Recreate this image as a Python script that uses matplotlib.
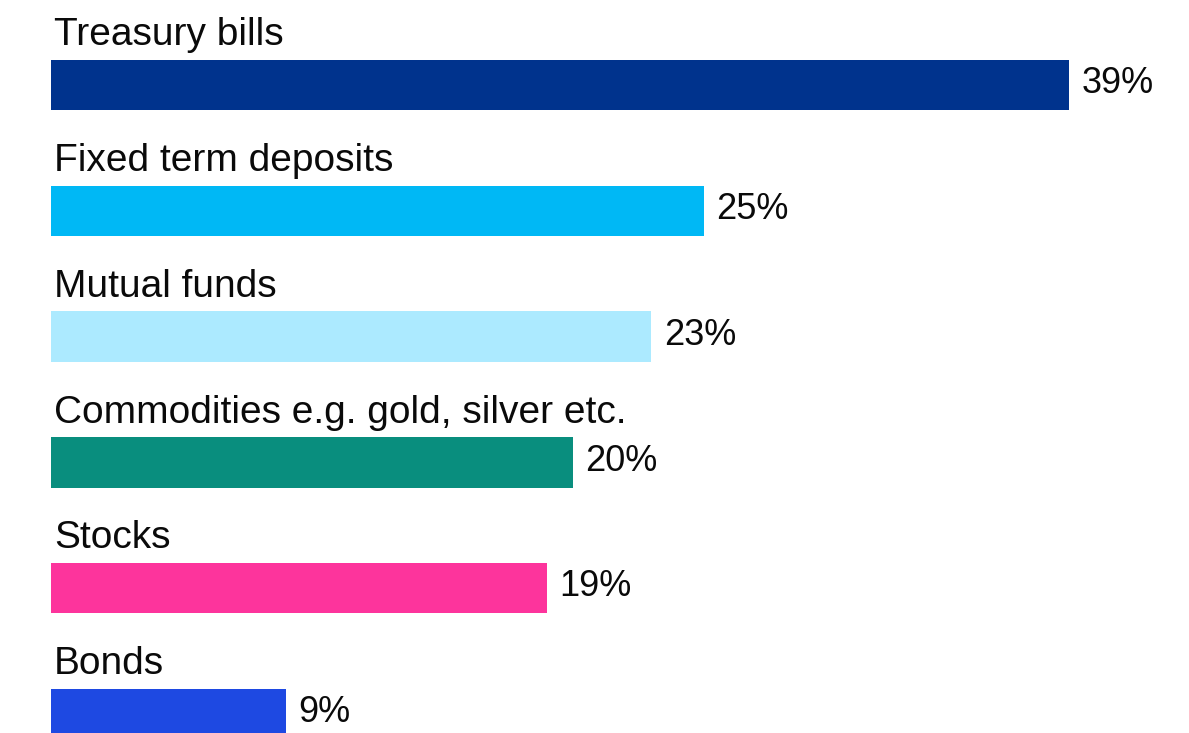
import matplotlib
matplotlib.use("Agg")
import matplotlib.pyplot as plt

# Where money is kept, share of respondents
categories = [
    "Treasury bills",
    "Fixed term deposits",
    "Mutual funds",
    "Commodities e.g. gold, silver etc.",
    "Stocks",
    "Bonds",
]
shares = [39, 25, 23, 20, 19, 9]
colors = ["#00338D", "#00B8F5", "#ACEAFF", "#098E7E", "#FD349C", "#1E49E2"]

plt.rcParams["font.family"] = ["Liberation Sans", "DejaVu Sans"]

fig = plt.figure(figsize=(11.89, 7.33), dpi=100)
ax = fig.add_axes([0, 0, 1, 1])

bar_h = 0.4
ypos = list(range(len(categories)))
ax.barh(ypos, shares, height=bar_h, color=colors, left=0)

for y, cat, val in zip(ypos, categories, shares):
    # category name sits above its bar
    ax.annotate(cat, xy=(0, y - bar_h / 2), xytext=(2, 10.5),
                textcoords="offset points", ha="left", va="baseline",
                fontsize=28, color="#0a0a0a")
    # value to the right of the bar
    ax.annotate(f"{val}%", xy=(val, y), xytext=(9, 1),
                textcoords="offset points", ha="left", va="center",
                fontsize=26, color="#0a0a0a")

# scale: 39% spans from px 51 to px 1069
ppu = (1069 - 51) / 39
ax.set_xlim(-51 / ppu, (1189 - 51) / ppu)
step = 125.8
ax.set_ylim((733 - 85) / step, -85 / step)
ax.axis("off")

fig.savefig("out.png", dpi=100, facecolor="white")
